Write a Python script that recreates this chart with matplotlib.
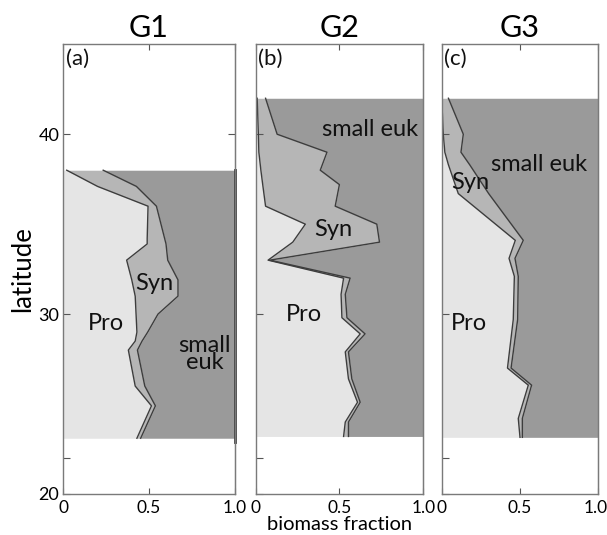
import numpy as np
import matplotlib
matplotlib.use("Agg")
import matplotlib.pyplot as plt
import matplotlib.transforms as mtransforms

plt.rcParams['font.family'] = ['Lato', 'DejaVu Sans']

# ---------------- data ----------------
panel_titles = ["G1", "G2", "G3"]
panel_tags = ["(a)", "(b)", "(c)"]

lat_g1 = [38.0, 37.1, 36.0, 34.2, 33.9, 33.0, 31.9, 31.0, 30.0, 29.0, 28.5, 28.0, 26.0, 24.9, 23.1]
pro_g1 = [0.02, 0.20, 0.495, 0.49, 0.49, 0.37, 0.40, 0.42, 0.425, 0.43, 0.42, 0.38, 0.42, 0.515, 0.43]
syn_g1 = [0.213, 0.227, 0.049, 0.102, 0.11, 0.24, 0.27, 0.25, 0.128, 0.063, 0.04, 0.053, 0.056, 0.023, 0.022]

lat_g2 = [42.0, 40.0, 39.0, 38.0, 37.2, 36.0, 35.0, 34.0, 33.0, 32.0, 31.1, 29.8, 28.9, 27.9, 26.4, 25.1, 24.0, 23.2]
pro_g2 = [0.01, 0.017, 0.02, 0.032, 0.043, 0.06, 0.297, 0.222, 0.075, 0.525, 0.51, 0.515, 0.624, 0.535, 0.554, 0.608, 0.535, 0.525]
syn_g2 = [0.05, 0.112, 0.406, 0.354, 0.457, 0.415, 0.426, 0.517, 0.01, 0.039, 0.025, 0.03, 0.029, 0.019, 0.02, 0.016, 0.019, 0.029]

lat_g3 = [42.0, 40.0, 39.0, 38.3, 36.7, 34.1, 33.1, 32.1, 29.7, 27.0, 26.05, 24.2, 23.15]
pro_g3 = [0.0, 0.01, 0.02, 0.043, 0.106, 0.47, 0.43, 0.464, 0.457, 0.42, 0.553, 0.489, 0.50]
syn_g3 = [0.043, 0.128, 0.103, 0.136, 0.194, 0.051, 0.038, 0.025, 0.028, 0.023, 0.021, 0.026, 0.015]

x_ticks = [0, 0.5, 1.0]
x_ticklabels = ["0", "0.5", "1.0"]
y_ticks_left = [20, 22, 30, 40]
y_ticklabels_left = ["20", "", "30", "40"]
y_ticks_right = [25, 30, 35, 40]

# label positions (fraction, latitude) and texts
labels_g1 = [("Pro", 0.25, 29.5), ("Syn", 0.534, 31.7), ("small\neuk", 0.825, 27.8)]
labels_g2 = [("Pro", 0.287, 30.0), ("Syn", 0.465, 34.7), ("small euk", 0.683, 40.25)]
labels_g3 = [("Pro", 0.177, 29.5), ("Syn", 0.18, 37.3), ("small euk", 0.623, 38.3)]

# ---------------- style ----------------
c_pro = "#e5e5e5"
c_syn = "#b6b6b6"
c_euk = "#9a9a9a"
c_line = "#3d3d3d"
c_spine = "#7a7a7a"

W, H = 607, 535
fig = plt.figure(figsize=(W / 100, H / 100), dpi=100)

ax_px = [(63.3, 234.5), (255.5, 423.3), (441.7, 598.3)]
top_px, bot_px = 44.3, 494.0

data = [(lat_g1, pro_g1, syn_g1, labels_g1),
        (lat_g2, pro_g2, syn_g2, labels_g2),
        (lat_g3, pro_g3, syn_g3, labels_g3)]

axes = []
for i, ((x0, x1), (lat, pro, syn, labs)) in enumerate(zip(ax_px, data)):
    ax = fig.add_axes([x0 / W, (H - bot_px) / H, (x1 - x0) / W, (bot_px - top_px) / H])
    axes.append(ax)
    lat = np.array(lat)
    pro = np.array(pro)
    tot = pro + np.array(syn)
    ax.fill_betweenx(lat, 0, pro, color=c_pro, lw=0)
    ax.fill_betweenx(lat, pro, tot, color=c_syn, lw=0)
    ax.fill_betweenx(lat, tot, 1.0, color=c_euk, lw=0)
    ax.plot(pro, lat, color=c_line, lw=1.0)
    ax.plot(tot, lat, color=c_line, lw=1.0)
    if i == 0:
        ax.plot([1.0, 1.0], [lat.min() - 0.2, lat.max()], color=c_line, lw=2.0, clip_on=False)
    for txt, xf, la in labs:
        ax.text(xf, la, txt, ha='center', va='center', fontsize=17, color='#111111',
                linespacing=0.75)
    ax.set_xlim(0, 1.0)
    ax.set_ylim(20, 45)
    ax.set_xticks(x_ticks)
    ax.set_xticklabels(x_ticklabels, fontsize=12.5)
    ax.tick_params(axis='x', direction='in', top=True, length=4, color='#555555', pad=4)
    ax.set_yticks(y_ticks_left)
    if i == 0:
        ax.set_yticklabels(y_ticklabels_left, fontsize=13)
    else:
        ax.set_yticklabels([])
    ax.tick_params(axis='y', direction='in', length=5, color='#555555', pad=3)
    sec = ax.secondary_yaxis('right')
    sec.set_yticks(y_ticks_right)
    sec.set_yticklabels([])
    sec.tick_params(direction='in', length=5, color='#555555')
    sec.spines['right'].set_color(c_spine)
    for sp in ax.spines.values():
        sp.set_color(c_spine)
        sp.set_linewidth(1.0)
    ax.set_title(panel_titles[i], fontsize=22, pad=5)
    ax.text(0.015, 0.99, panel_tags[i], transform=ax.transAxes, ha='left', va='top',
            fontsize=16, color='#111111')

# nudge the last x tick label of the right panel so it stays inside the figure
lbl = axes[2].get_xticklabels()[-1]
lbl.set_transform(lbl.get_transform() + mtransforms.ScaledTranslation(-0.03, 0, fig.dpi_scale_trans))

axes[0].set_ylabel("latitude", fontsize=18.5, labelpad=2)
axes[1].set_xlabel("biomass fraction", fontsize=14.5, labelpad=0)

fig.savefig("out.png", dpi=100)
